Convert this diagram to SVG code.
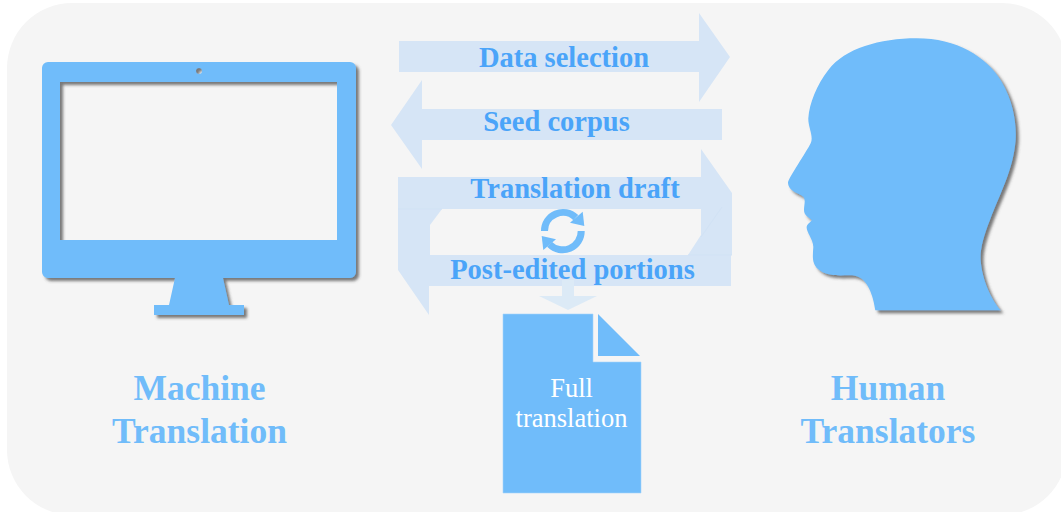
<svg xmlns="http://www.w3.org/2000/svg" width="1061" height="512" viewBox="0 0 1061 512">
  <defs>
    <filter id="shadow" x="-5%" y="-5%" width="112%" height="112%">
      <feDropShadow dx="3" dy="3" stdDeviation="1.7" flood-color="#4a4a4a" flood-opacity="0.72"/>
    </filter>
  </defs>
  <style>
    .blue { fill: #70bcfa; }
    .band { fill: #d6e5f6; }
    .seam { fill: none; stroke: #d1e2f5; stroke-width: 1; }
    .flow { font: bold 28.5px "Liberation Serif", "Times New Roman", serif; fill: #4aa4f9; text-anchor: middle; }
    .title { font: bold 35.5px "Liberation Serif", "Times New Roman", serif; fill: #70bcfa; text-anchor: middle; }
    .doc { font: 26.5px "Liberation Serif", "Times New Roman", serif; fill: #ffffff; text-anchor: middle; }
  </style>

  <rect width="1061" height="512" fill="#ffffff"/>
  <rect x="7" y="3" width="1060" height="512" rx="65" ry="65" fill="#f5f5f5"/>

  <g id="connectors">
    <polygon id="data-selection-arrow" class="band" points="399,41 699,41 699,13 730,57 699,102 699,72 399,72"/>
    <polygon id="seed-corpus-arrow" class="band" points="722,109 422,109 422,80 391,125 422,169 422,140 722,140"/>
    <polygon id="translation-draft-arrow" class="band" points="398,177 701,177 701,149 732,193 732,255 688,255 701,235 701,209 398,209"/>
    <polygon id="post-edited-arrow" class="band" points="731,255 430,255 430,225 442,209 398,209 398,270 429,315 429,286 731,286"/>
    <path class="seam" d="M398 209H442M722 207L701 237M688 255H732"/>
    <polygon id="output-arrow" fill="#dceaf6" points="562,280 574,280 574,296 597,296 568,310 539,296 562,296"/>
  </g>

  <g id="machine-translation">
    <path class="blue" filter="url(#shadow)" fill-rule="evenodd" d="M48 62H350A6 6 0 0 1 356 68V272A6 6 0 0 1 350 278H223L229 305H244V315H154V305H169L175 278H48A6 6 0 0 1 42 272V68A6 6 0 0 1 48 62Z M60 82V240H337V82Z M196 71A3 3 0 1 0 202 71A3 3 0 1 0 196 71Z"/>
    <text class="title" x="199.5" y="400">Machine</text>
    <text class="title" x="199.5" y="443">Translation</text>
  </g>

  <g id="human-translators">
    <g filter="url(#shadow)">
      <path class="blue" transform="translate(770 30) scale(0.3333)" d="M316 841C310 800 295 745 255 737C225 733 175 745 145 718C125 700 128 680 130 650C128 625 108 605 110 590C112 580 125 575 125 570C118 562 102 558 102 540C102 525 108 510 100 500C90 490 55 485 54 458C55 445 110 365 122 340C132 320 114 290 115 265C118 220 140 165 175 120C225 55 330 25 440 25C560 25 650 80 695 155C730 215 740 280 737 330C730 420 690 490 660 570C640 620 630 660 632 690C636 750 665 810 692 841Z"/>
    </g>
    <text class="title" x="888" y="400">Human</text>
    <text class="title" x="888" y="443">Translators</text>
  </g>

  <g id="sync-icon">
    <path d="M544.5 231A18.5 18.5 0 0 1 575.8 217.6" fill="none" stroke="#70bcfa" stroke-width="7"/>
    <polygon class="blue" points="582.7,211.7 584.3,226 570,222.7"/>
    <path d="M581.2 231A18.5 18.5 0 0 1 549.6 244.4" fill="none" stroke="#70bcfa" stroke-width="7"/>
    <polygon class="blue" points="541.7,236 556,239.3 543.3,250"/>
  </g>

  <g id="flow-labels">
    <text class="flow" x="564" y="67">Data selection</text>
    <text class="flow" x="556.5" y="131">Seed corpus</text>
    <text class="flow" x="575" y="198">Translation draft</text>
    <text class="flow" x="572.5" y="279">Post-edited portions</text>
  </g>

  <g id="full-translation">
    <path class="blue" stroke="#a5d4fb" stroke-width="0.6" d="M503 314H593V362H641V493H503Z"/>
    <polygon class="blue" points="598,314 640,356 598,356"/>
    <text class="doc" x="571.5" y="397">Full</text>
    <text class="doc" x="571.5" y="427">translation</text>
  </g>
</svg>
